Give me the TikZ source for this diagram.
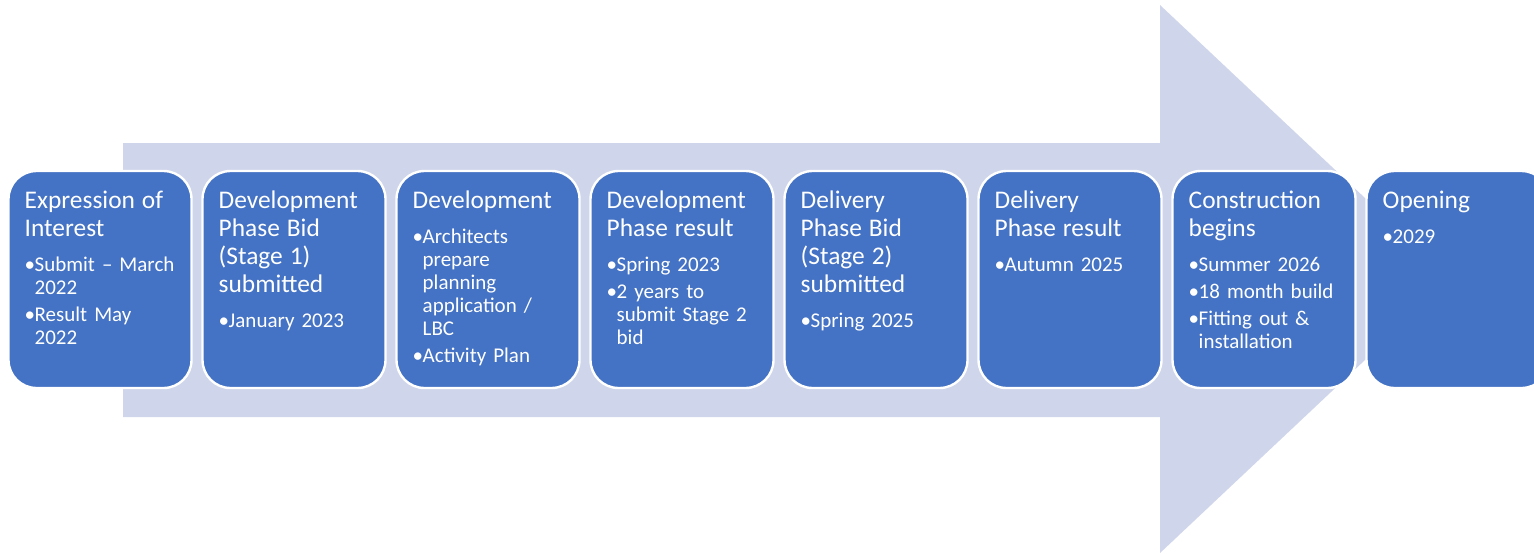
\documentclass[tikz,border=0pt]{standalone}
\usepackage{fontspec}
\setmainfont{Carlito}
\usetikzlibrary{positioning}
\definecolor{colorarrow}{RGB}{207,213,234}
\definecolor{colorstep}  {RGB}{68 ,114,196}

\newcommand{\steptitle}[1]{{\fontsize{12.7}{14}\selectfont #1\par}\vspace{6pt}}
\newcommand{\stepitem}[1]{\par\rightskip=0pt plus 1fil\hangindent=5pt\hangafter=1\noindent\makebox[5pt][l]{\textbullet}#1\par\vspace{2pt}}

\begin{document}
\begin{tikzpicture}[
    x=0.5pt, y=-0.5pt,
    node distance = 4.3pt,
    stepbox/.style={rectangle,rounded corners=14pt,fill=colorstep,draw=white,line width=1.2pt,
        minimum width=91.5pt,minimum height=108.5pt,inner sep=0pt},
    txt/.style={text=white,font={\fontsize{10.5}{11.5}\selectfont},align=left,text width=84pt,
        inner sep=0pt,anchor=north west},
]

    \clip (0,0) rectangle (1534,553);

    % Arrow
    \fill[colorarrow] (123,143) -- (1160,143) -- (1160,5) -- (1451,279)
        -- (1160,553) -- (1160,417) -- (123,417) -- cycle;

    % Steps
    \node[stepbox] at (100,279.5) (eoi) {};
    \node[stepbox,right=of eoi] (devbid) {};
    \node[stepbox,right=of devbid] (dev) {};
    \node[stepbox,right=of dev] (devres) {};
    \node[stepbox,right=of devres] (delbid) {};
    \node[stepbox,right=of delbid] (delres) {};
    \node[stepbox,right=of delres] (build) {};
    \node[stepbox,right=of build] (open) {};

    % Texts
    \node[txt] at ([xshift=8.5pt,yshift=-10.5pt]eoi.north west) (eoitxt)
        {\steptitle{Expression of\\Interest}\stepitem{Submit – March\newline 2022}\stepitem{Result May\newline 2022}};
    \node[txt] at ([xshift=8.5pt,yshift=-10.5pt]devbid.north west) (devbidtxt)
        {\steptitle{Development\\Phase Bid\\(Stage 1)\\submitted}\stepitem{January 2023}};
    \node[txt] at ([xshift=8.5pt,yshift=-10.5pt]dev.north west) (devtxt)
        {\steptitle{Development}\stepitem{Architects\newline prepare\newline planning\newline application /\newline LBC}\stepitem{Activity Plan}};
    \node[txt] at ([xshift=8.5pt,yshift=-10.5pt]devres.north west) (devrestxt)
        {\steptitle{Development\\Phase result}\stepitem{Spring 2023}\stepitem{2 years to\newline submit Stage 2\newline bid}};
    \node[txt] at ([xshift=8.5pt,yshift=-10.5pt]delbid.north west) (delbidtxt)
        {\steptitle{Delivery\\Phase Bid\\(Stage 2)\\submitted}\stepitem{Spring 2025}};
    \node[txt] at ([xshift=8.5pt,yshift=-10.5pt]delres.north west) (delrestxt)
        {\steptitle{Delivery\\Phase result}\stepitem{Autumn 2025}};
    \node[txt] at ([xshift=8.5pt,yshift=-10.5pt]build.north west) (buildtxt)
        {\steptitle{Construction\\begins}\stepitem{Summer 2026}\stepitem{18 month build}\stepitem{Fitting out \&\newline installation}};
    \node[txt] at ([xshift=8.5pt,yshift=-10.5pt]open.north west) (opentxt)
        {\steptitle{Opening}\stepitem{2029}};

\end{tikzpicture}
\end{document}
